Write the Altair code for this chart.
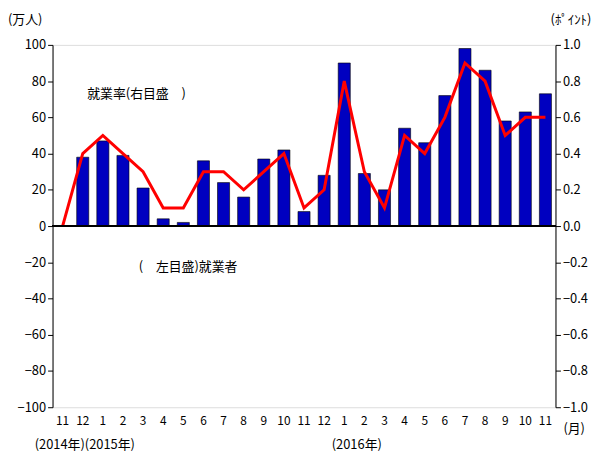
import altair as alt
import pandas as pd

months = ["11", "12", "1", "2", "3", "4", "5", "6", "7", "8", "9", "10", "11",
          "12", "1", "2", "3", "4", "5", "6", "7", "8", "9", "10", "11"]
employed = [0, 38, 47, 39, 21, 4, 2, 36, 24, 16, 37, 42, 8,
            28, 90, 29, 20, 54, 46, 72, 98, 86, 58, 63, 73]
rate = [0.0, 0.4, 0.5, 0.4, 0.3, 0.1, 0.1, 0.3, 0.3, 0.2, 0.3, 0.4, 0.1,
        0.2, 0.8, 0.3, 0.1, 0.5, 0.4, 0.6, 0.9, 0.8, 0.5, 0.6, 0.6]

df = pd.DataFrame({"idx": range(len(months)), "employed": employed, "rate": rate})
label_expr = "[" + ",".join("'%s'" % m for m in months) + "][datum.value]"
font = "Noto Sans CJK JP"

W, H = 508, 366

x = alt.X("idx:O", title=None, scale=alt.Scale(paddingInner=0.4, paddingOuter=0.2),
          axis=alt.Axis(labelExpr=label_expr, labelAngle=0, ticks=False, domain=False,
                        labelFontSize=12, labelPadding=8, labelColor="black", labelFont=font))

bars = alt.Chart(df).mark_bar(color="#0000c0", stroke="black", strokeWidth=0.6).encode(
    x=x,
    y=alt.Y("employed:Q", title=None, scale=alt.Scale(domain=[-100, 100]),
            axis=alt.Axis(values=list(range(-100, 101, 20)), grid=False, tickSize=5,
                          labelFontSize=13, labelColor="black", domainColor="black",
                          tickColor="black", labelFont=font, labelOverlap=False)),
)

line = alt.Chart(df).mark_line(color="#ff0000", strokeWidth=3).encode(
    x=x,
    y=alt.Y("rate:Q", title=None, scale=alt.Scale(domain=[-1, 1]),
            axis=alt.Axis(orient="right", values=[v / 10 for v in range(-10, 11, 2)],
                          format=".1f", grid=False, tickSize=5, labelFontSize=13,
                          labelColor="black", domainColor="black", tickColor="black",
                          labelFont=font, labelOverlap=False)),
)

# zero line sits in the middle of the symmetric axes
zero = alt.Chart(df).mark_rule(color="black", strokeWidth=1.2).encode(
    y=alt.value(H / 2), x=alt.value(0), x2=alt.value(W))

notes = pd.DataFrame({
    "t": ["就業率(右目盛\u3000)", "(\u3000左目盛)就業者", "(万人)", "(ﾎﾟｲﾝﾄ)",
          "(月)", "(2014年)(2015年)", "(2016年)"],
    "px": [35, 87, -45, 503, 516, -18, 282],
    "py": [50, 224, -25, -25, 388, 404, 404],
})
text = alt.Chart(notes).mark_text(align="left", baseline="middle", fontSize=13,
                                   font=font, color="black").encode(
    text="t:N", x=alt.X("px:Q", scale=None), y=alt.Y("py:Q", scale=None))

chart = alt.layer(bars, line).resolve_scale(y="independent")
chart = alt.layer(chart, zero, text).properties(
    width=W, height=H,
    padding={"left": 45, "top": 35, "right": 48, "bottom": 46},
    autosize=alt.AutoSizeParams(type="none"),
).configure_view(stroke="black", strokeWidth=1.5).configure(background="white")

chart.save("out.html", embed_options={"renderer": "svg", "actions": False})
